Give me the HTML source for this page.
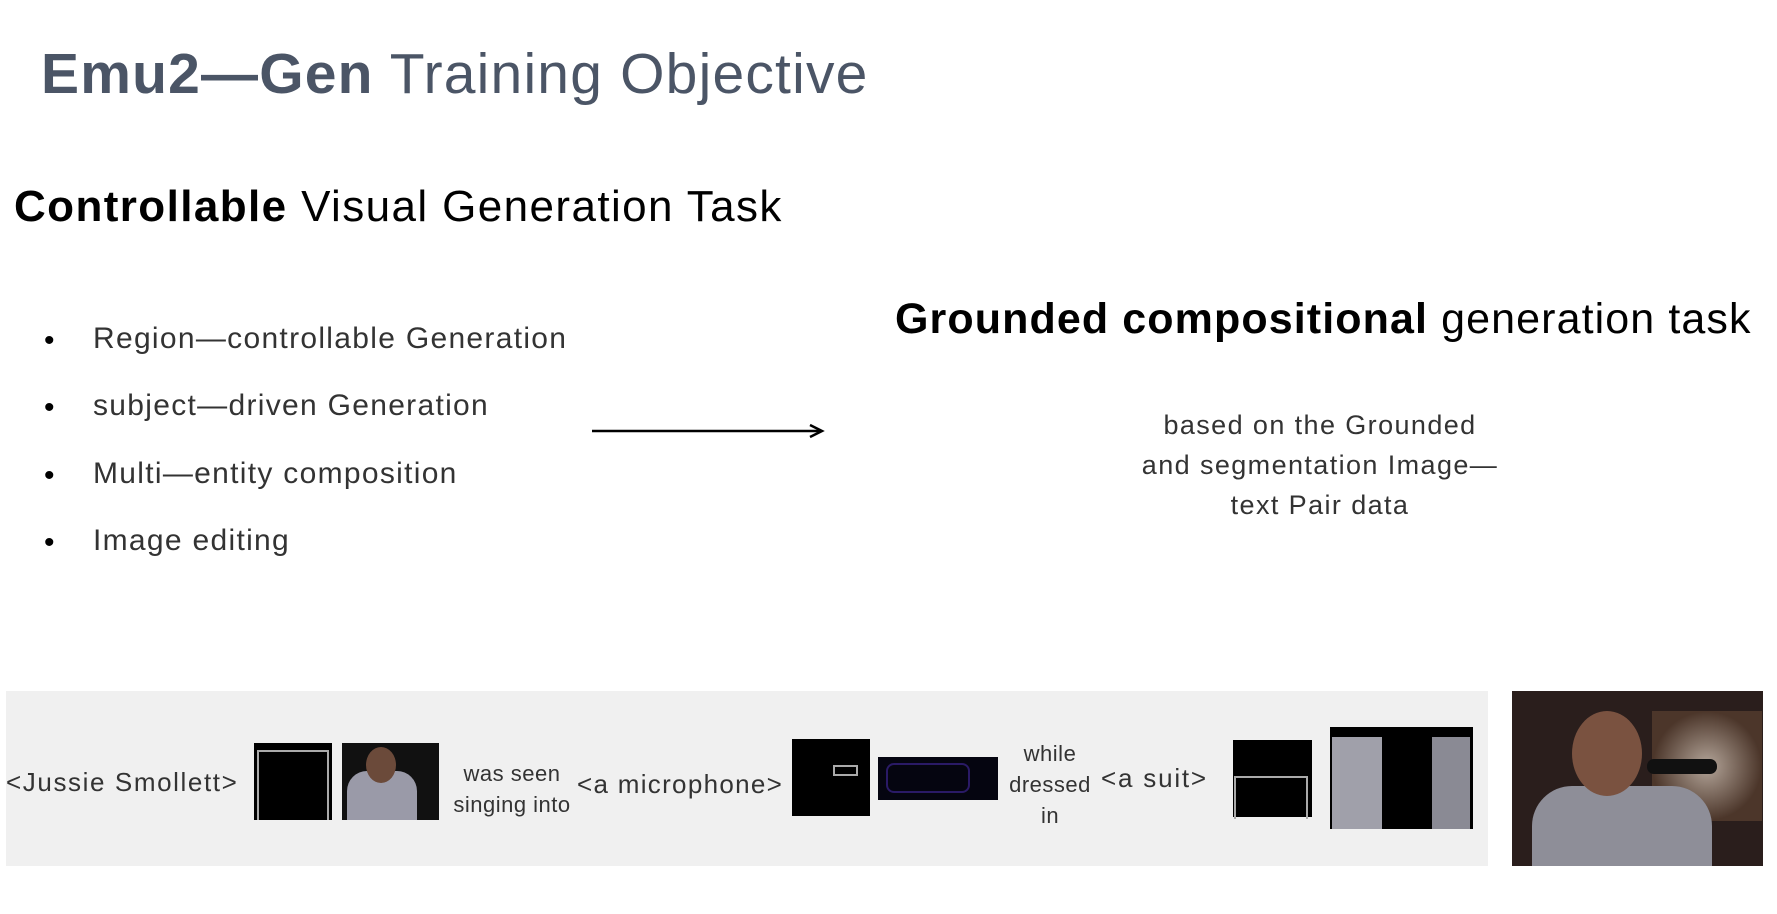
<!DOCTYPE html>
<html><head><meta charset="utf-8"><style>
body{margin:0;width:1777px;height:914px;background:#fff;position:relative;overflow:hidden;font-family:"Liberation Sans",sans-serif;}
.t{position:absolute;white-space:nowrap;line-height:1;}
.b{position:absolute;background:#000;}
.ph{position:absolute;overflow:hidden;}
</style></head><body>
<div class="t" style="left:41px;top:46px;font-size:57px;color:#4b5566;letter-spacing:1.2px;"><b>Emu2—Gen</b> Training Objective</div>
<div class="t" style="left:14px;top:185px;font-size:44px;color:#000;letter-spacing:1.4px;"><b>Controllable</b> Visual Generation Task</div>

<div class="t" style="left:44px;top:326px;font-size:30px;">•</div>
<div class="t" style="left:93px;top:324px;font-size:30px;color:#333;letter-spacing:1.3px;">Region—controllable Generation</div>
<div class="t" style="left:44px;top:393px;font-size:30px;">•</div>
<div class="t" style="left:93px;top:391px;font-size:30px;color:#333;letter-spacing:1.3px;">subject—driven Generation</div>
<div class="t" style="left:44px;top:461px;font-size:30px;">•</div>
<div class="t" style="left:93px;top:459px;font-size:30px;color:#333;letter-spacing:1.3px;">Multi—entity composition</div>
<div class="t" style="left:44px;top:528px;font-size:30px;">•</div>
<div class="t" style="left:93px;top:526px;font-size:30px;color:#333;letter-spacing:1.3px;">Image editing</div>

<svg style="position:absolute;left:0;top:0" width="1777" height="914">
<line x1="592" y1="431" x2="820" y2="431" stroke="#000" stroke-width="2.5"/>
<path d="M810 425 L822 431 L810 437" fill="none" stroke="#000" stroke-width="2.5"/>
</svg>

<div class="t" style="left:895px;top:298px;font-size:43px;color:#000;letter-spacing:1.1px;"><b>Grounded compositional</b> generation task</div>
<div class="t" style="left:1120px;top:405px;width:400px;text-align:center;font-size:27px;color:#333;line-height:40px;white-space:normal;letter-spacing:1.4px;">based on the Grounded<br>and segmentation Image—<br>text Pair data</div>

<div style="position:absolute;left:6px;top:691px;width:1482px;height:175px;background:#f0f0f0;"></div>
<div class="t" style="left:6px;top:769px;font-size:26px;color:#333;letter-spacing:1.6px;">&lt;Jussie Smollett&gt;</div>
<div class="b" style="left:254px;top:743px;width:78px;height:77px;"><div style="position:absolute;left:3px;top:7px;width:68px;height:68px;border:2px solid #aaa;border-bottom:none;"></div></div>
<div class="ph" style="left:342px;top:743px;width:97px;height:77px;background:#111;"><div style="position:absolute;left:5px;top:28px;width:70px;height:60px;background:#9a9aa8;border-radius:20px 20px 0 0;"></div><div style="position:absolute;left:24px;top:4px;width:30px;height:36px;background:#6b4a3a;border-radius:50%;"></div></div>
<div class="t" style="left:442px;top:758px;width:140px;text-align:center;font-size:22px;color:#333;line-height:31px;letter-spacing:0.5px;">was seen<br>singing into</div>
<div class="t" style="left:577px;top:771px;font-size:26px;color:#333;letter-spacing:1.3px;">&lt;a microphone&gt;</div>
<div class="b" style="left:792px;top:739px;width:78px;height:77px;"><div style="position:absolute;left:41px;top:26px;width:21px;height:7px;border:2px solid #aaa;"></div></div>
<div class="ph" style="left:878px;top:757px;width:120px;height:43px;background:#050510;"><div style="position:absolute;left:8px;top:6px;width:80px;height:26px;border:2px solid #2a1a66;border-radius:8px;"></div></div>
<div class="t" style="left:1000px;top:738px;width:100px;text-align:center;font-size:22px;color:#333;line-height:31px;letter-spacing:0.5px;">while<br>dressed<br>in</div>
<div class="t" style="left:1101px;top:765px;font-size:26px;color:#333;letter-spacing:1.8px;">&lt;a suit&gt;</div>
<div class="b" style="left:1233px;top:740px;width:79px;height:77px;"><div style="position:absolute;left:1px;top:36px;width:70px;height:41px;border:2px solid #aaa;border-bottom:none;"></div></div>
<div class="ph" style="left:1330px;top:727px;width:143px;height:102px;background:#000;"><div style="position:absolute;left:2px;top:10px;width:50px;height:92px;background:#a0a0aa;"></div><div style="position:absolute;left:102px;top:10px;width:38px;height:92px;background:#8a8a94;"></div></div>
<div class="ph" style="left:1512px;top:691px;width:251px;height:175px;background:#2a1e1c;">
<div style="position:absolute;left:140px;top:20px;width:110px;height:110px;background:radial-gradient(circle,#d9c8b8 10%,#5a4030 70%);opacity:.7;"></div>
<div style="position:absolute;left:20px;top:95px;width:180px;height:90px;background:#8e8e98;border-radius:40px 40px 0 0;"></div>
<div style="position:absolute;left:60px;top:20px;width:70px;height:85px;background:#7a5240;border-radius:50%;"></div>
<div style="position:absolute;left:135px;top:68px;width:70px;height:15px;background:#111;border-radius:7px;"></div>
</div>
</body></html>
